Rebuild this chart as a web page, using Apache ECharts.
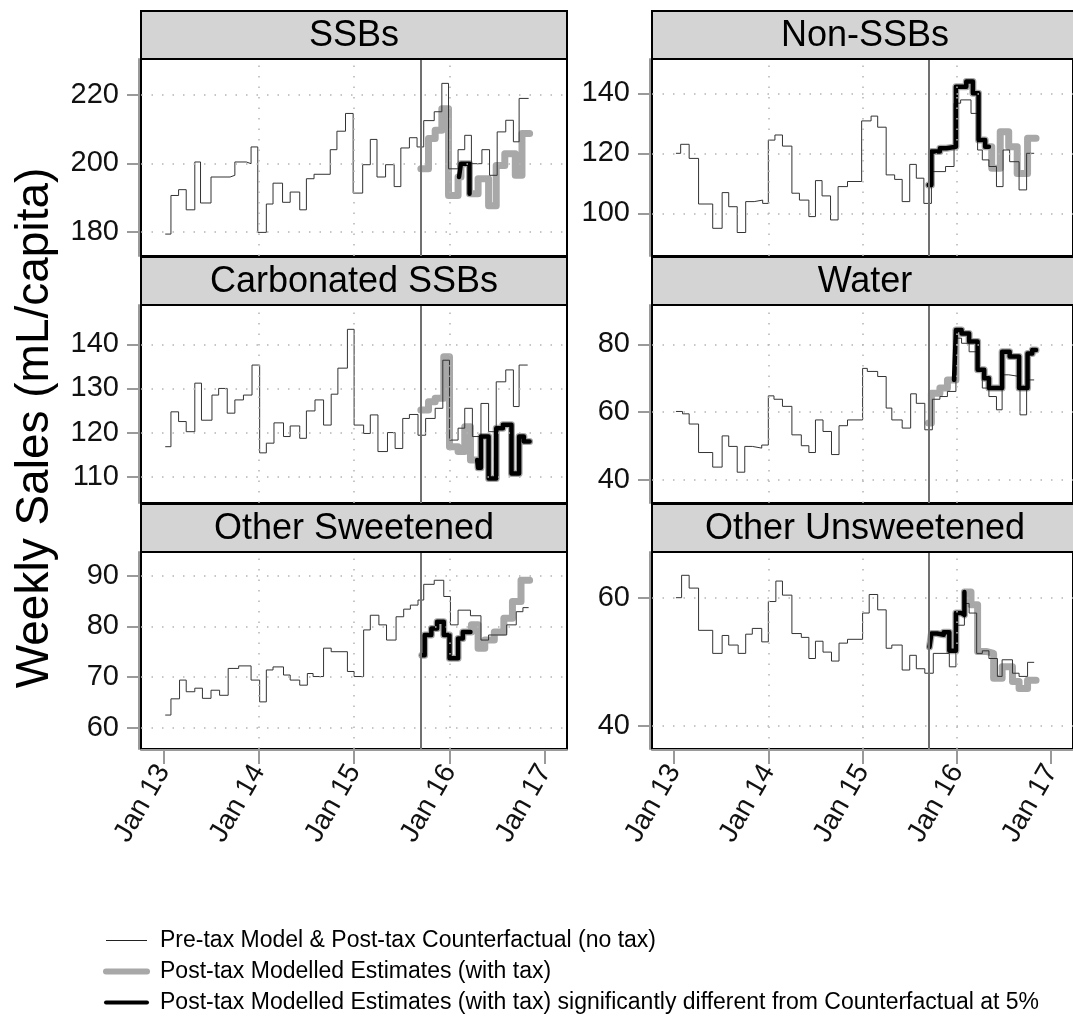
<!DOCTYPE html>
<html><head><meta charset="utf-8">
<script src="https://cdn.jsdelivr.net/npm/echarts@6/dist/echarts.min.js"></script>
<style>html,body{margin:0;padding:0;background:#fff}#chart{width:1073px;height:1019px}</style>
</head><body><div id="chart"></div>
<script>
// ---------------- DATA ----------------
const xTicks = [2013, 2014, 2015, 2016, 2017];
const xTickLabels = ['Jan 13', 'Jan 14', 'Jan 15', 'Jan 16', 'Jan 17'];
const xGridLines = [2014, 2015, 2016];
const taxDate = 2015.7;
const legendNames = [
  'Pre-tax Model & Post-tax Counterfactual (no tax)',
  'Post-tax Modelled Estimates (with tax)',
  'Post-tax Modelled Estimates (with tax) significantly different from Counterfactual at 5%'
];
const panelTitles = ['SSBs', 'Non-SSBs', 'Carbonated SSBs', 'Water', 'Other Sweetened', 'Other Unsweetened'];
const yTicksSSB = [180, 200, 220];
const yTicksNonSSB = [100, 120, 140];
const yTicksCarb = [110, 120, 130, 140];
const yTicksWater = [40, 60, 80];
const yTicksOtherSw = [60, 70, 80, 90];
const yTicksOtherUn = [40, 60];

// SSBs
const ssbBase = [[2013.02,179.3],[2013.08,190.6],[2013.16,192.3],[2013.24,186.4],[2013.33,200.4],[2013.39,188.4],[2013.50,196.0],[2013.70,196.5],[2013.75,200.4],[2013.87,199.9],[2013.92,204.8],[2013.99,179.8],[2014.08,188.1],[2014.15,194.2],[2014.25,188.6],[2014.33,191.6],[2014.43,186.4],[2014.50,195.5],[2014.58,196.8],[2014.75,204.0],[2014.82,209.4],[2014.91,214.6],[2014.99,191.3],[2015.09,199.6],[2015.17,207.0],[2015.24,196.0],[2015.33,199.6],[2015.42,193.2],[2015.49,204.5],[2015.58,207.5],[2015.66,204.8],[2015.73,212.5],[2015.84,215.1],[2015.92,223.4],[2015.99,198.4],[2016.09,204.0],[2016.16,208.2],[2016.23,199.9],[2016.34,204.0],[2016.42,196.5],[2016.50,209.2],[2016.59,212.6],[2016.67,206.3],[2016.73,219.0],[2016.83,219.0]];
const ssbTax = [[2015.70,198.4],[2015.78,207.3],[2015.85,209.7],[2015.92,216.0],[2015.99,190.6],[2016.09,196.0],[2016.12,199.9],[2016.21,191.1],[2016.30,195.5],[2016.41,187.6],[2016.49,199.4],[2016.58,202.8],[2016.69,196.5],[2016.76,208.7],[2016.84,208.7]];
const ssbSig = [[2016.10, 2016.21]];

// Non-SSBs
const nonBase = [[2013.02,120.0],[2013.07,123.0],[2013.16,118.3],[2013.26,103.1],[2013.41,95.0],[2013.51,106.9],[2013.58,102.2],[2013.67,93.6],[2013.76,103.9],[2013.85,104.4],[2013.94,103.3],[2014.00,124.4],[2014.07,126.1],[2014.15,122.4],[2014.25,106.7],[2014.33,104.4],[2014.43,98.9],[2014.50,110.9],[2014.57,105.8],[2014.66,97.8],[2014.74,108.9],[2014.84,110.6],[2014.99,130.8],[2015.09,132.4],[2015.16,128.7],[2015.25,112.8],[2015.34,111.3],[2015.42,103.9],[2015.50,116.3],[2015.57,111.7],[2015.65,103.3],[2015.73,113.9],[2015.88,115.6],[2015.97,136.7],[2016.04,137.8],[2016.15,133.3],[2016.22,121.1],[2016.27,117.8],[2016.34,115.6],[2016.42,108.9],[2016.49,121.1],[2016.56,117.2],[2016.66,107.8],[2016.74,120.0],[2016.82,120.0]];
const nonTax = [[2015.70,109.4],[2015.73,120.6],[2015.82,121.7],[2015.89,122.2],[2015.99,142.2],[2016.10,143.9],[2016.17,140.0],[2016.23,124.4],[2016.30,122.2],[2016.37,115.0],[2016.46,127.2],[2016.55,122.2],[2016.64,113.3],[2016.75,125.0],[2016.84,125.0]];
const nonSig = [[2015.70, 2016.34]];

// Carbonated SSBs
const carbBase = [[2013.02,116.8],[2013.08,124.7],[2013.16,122.5],[2013.24,120.2],[2013.33,131.2],[2013.40,122.8],[2013.51,128.5],[2013.58,130.0],[2013.67,124.4],[2013.75,127.4],[2013.84,128.5],[2013.93,135.3],[2014.01,115.4],[2014.08,117.6],[2014.16,122.2],[2014.26,119.1],[2014.33,121.5],[2014.43,118.7],[2014.50,124.9],[2014.59,127.4],[2014.68,121.7],[2014.76,128.7],[2014.83,134.6],[2014.93,143.4],[2015.00,121.7],[2015.10,119.8],[2015.17,124.0],[2015.25,115.7],[2015.35,120.0],[2015.43,116.4],[2015.51,123.2],[2015.58,124.1],[2015.67,119.4],[2015.75,123.2],[2015.85,125.5],[2015.93,136.4],[2016.00,118.3],[2016.09,121.0],[2016.16,125.5],[2016.24,119.1],[2016.33,126.6],[2016.41,120.2],[2016.49,131.5],[2016.59,134.2],[2016.67,125.9],[2016.73,135.3],[2016.82,135.3]];
const carbTax = [[2015.70,125.1],[2015.78,127.0],[2015.85,127.8],[2015.94,137.2],[2016.00,116.8],[2016.09,115.7],[2016.16,121.3],[2016.22,113.8],[2016.30,112.0],[2016.33,119.1],[2016.41,109.6],[2016.49,121.0],[2016.56,121.8],[2016.65,110.7],[2016.73,119.1],[2016.78,118.0],[2016.84,118.0]];
const carbSig = [[2016.29, 2016.84]];

// Water
const waterBase = [[2013.02,60.2],[2013.09,59.5],[2013.16,56.5],[2013.26,48.1],[2013.41,43.8],[2013.51,53.0],[2013.58,49.9],[2013.67,42.3],[2013.75,49.9],[2013.83,49.4],[2013.93,50.3],[2014.00,64.8],[2014.06,63.8],[2014.15,61.7],[2014.25,53.3],[2014.35,50.1],[2014.43,48.1],[2014.50,57.7],[2014.58,54.3],[2014.67,47.5],[2014.75,56.0],[2014.84,57.7],[2015.00,72.9],[2015.05,72.0],[2015.16,70.5],[2015.25,61.2],[2015.31,57.7],[2015.42,55.3],[2015.51,65.4],[2015.57,62.6],[2015.66,54.8],[2015.74,63.8],[2015.82,64.6],[2015.90,66.1],[2015.99,81.8],[2016.05,80.3],[2016.13,77.8],[2016.21,72.9],[2016.27,67.1],[2016.34,64.6],[2016.42,60.7],[2016.48,71.0],[2016.55,70.5],[2016.67,59.2],[2016.74,69.5],[2016.82,69.5]];
const waterTax = [[2015.70,56.8],[2015.73,65.6],[2015.82,67.1],[2015.90,69.5],[2015.99,84.2],[2016.05,83.2],[2016.13,80.8],[2016.22,72.5],[2016.29,70.0],[2016.34,67.1],[2016.48,77.8],[2016.56,76.4],[2016.66,67.1],[2016.75,77.3],[2016.80,78.3],[2016.84,78.3]];
const waterSig = [[2015.97, 2016.84]];

// Other Sweetened
const oswBase = [[2013.02,62.5],[2013.08,65.7],[2013.17,69.4],[2013.24,67.1],[2013.33,67.8],[2013.41,65.8],[2013.50,67.4],[2013.59,66.4],[2013.68,71.7],[2013.79,72.2],[2013.92,69.4],[2014.01,65.1],[2014.08,71.4],[2014.15,72.0],[2014.26,70.4],[2014.33,69.4],[2014.43,68.4],[2014.51,70.7],[2014.57,70.1],[2014.68,75.7],[2014.76,75.0],[2014.93,71.1],[2015.00,70.1],[2015.10,79.3],[2015.17,82.2],[2015.26,80.3],[2015.34,77.3],[2015.44,81.9],[2015.52,83.4],[2015.59,84.2],[2015.67,85.2],[2015.73,88.3],[2015.84,89.1],[2015.94,85.9],[2016.01,80.3],[2016.09,83.2],[2016.22,82.1],[2016.33,77.3],[2016.41,78.3],[2016.60,80.3],[2016.70,82.9],[2016.77,83.7],[2016.83,83.7]];
const oswTax = [[2015.71,74.3],[2015.74,78.3],[2015.81,79.6],[2015.87,80.9],[2015.94,78.3],[2016.00,73.7],[2016.09,77.6],[2016.14,78.9],[2016.23,80.3],[2016.30,75.7],[2016.37,77.3],[2016.47,78.9],[2016.57,81.6],[2016.66,84.9],[2016.75,89.1],[2016.84,89.1]];
const oswSig = [[2015.71, 2016.22]];

// Other Unsweetened
const ounBase = [[2013.02,60.0],[2013.08,63.5],[2013.16,61.5],[2013.26,54.9],[2013.41,51.3],[2013.51,54.1],[2013.58,52.6],[2013.68,51.3],[2013.76,54.3],[2013.83,55.2],[2013.93,53.1],[2014.00,59.4],[2014.08,62.6],[2014.15,60.4],[2014.25,54.4],[2014.35,53.8],[2014.43,50.5],[2014.50,53.2],[2014.58,51.5],[2014.67,50.1],[2014.75,52.9],[2014.84,53.5],[2015.00,57.6],[2015.07,60.5],[2015.16,58.1],[2015.25,52.1],[2015.31,52.6],[2015.42,48.7],[2015.50,51.0],[2015.57,48.9],[2015.66,48.2],[2015.75,51.3],[2015.92,49.2],[2015.99,55.7],[2016.08,59.1],[2016.13,57.6],[2016.21,51.3],[2016.27,51.7],[2016.34,50.5],[2016.43,47.7],[2016.48,50.3],[2016.59,48.2],[2016.66,47.7],[2016.75,49.9],[2016.82,49.9]];
const ounTax = [[2015.71,52.3],[2015.73,54.4],[2015.79,54.2],[2015.86,54.6],[2015.92,51.7],[2015.99,57.6],[2016.05,57.3],[2016.08,60.9],[2016.15,58.9],[2016.22,51.6],[2016.31,51.3],[2016.39,47.4],[2016.48,49.2],[2016.59,46.9],[2016.66,45.8],[2016.75,47.1],[2016.84,47.1]];
const ounSig = [[2015.71, 2016.08]];

// ---------------- LAYOUT ----------------
const FONT = '"Liberation Sans", Arial, sans-serif';
const panels = [
  {base: ssbBase, tax: ssbTax, sig: ssbSig, ticks: yTicksSSB, range: [172.89, 230.53]},
  {base: nonBase, tax: nonTax, sig: nonSig, ticks: yTicksNonSSB, range: [85.77, 151.43]},
  {base: carbBase, tax: carbTax, sig: carbSig, ticks: yTicksCarb, range: [104.04, 148.91]},
  {base: waterBase, tax: waterTax, sig: waterSig, ticks: yTicksWater, range: [33.22, 91.58]},
  {base: oswBase, tax: oswTax, sig: oswSig, ticks: yTicksOtherSw, range: [55.80, 94.68]},
  {base: ounBase, tax: ounTax, sig: ounSig, ticks: yTicksOtherUn, range: [36.36, 67.14]}
];
const colLeft = [141, 652];
const rowTop = [59, 305, 552];
const rowH = [197, 198, 197];
const plotW = 426;
const stripH = 48;
const xMin = 2012.766, xMax = 2017.232;
const COL_THIN = '#333333', COL_GRAY = '#a8a8a8', COL_SIG = '#000000';

function valueAt(arr, x) {
  let v = arr[0][1];
  for (const p of arr) { if (p[0] <= x + 1e-9) v = p[1]; else break; }
  return v;
}
function sigSegment(arr, a, b) {
  const pts = [[a, valueAt(arr, a)]];
  for (const p of arr) { if (p[0] > a && p[0] < b) pts.push(p); }
  pts.push([b, valueAt(arr, b)]);
  return pts;
}

const grids = [], xAxes = [], yAxes = [], series = [], graphics = [];
panels.forEach((p, i) => {
  const col = i % 2, row = Math.floor(i / 2);
  const left = colLeft[col], top = rowTop[row], h = rowH[row];
  const bottomRow = row === 2;
  grids.push({left: left, top: top, width: plotW, height: h, show: true,
    borderColor: '#000', borderWidth: 2, backgroundColor: 'transparent', containLabel: false});
  xAxes.push({type: 'value', gridIndex: i, min: xMin, max: xMax, offset: 1,
    splitLine: {show: false},
    axisLine: {show: bottomRow, lineStyle: {color: '#9a9a9a', width: 2}},
    axisTick: {show: bottomRow, customValues: xTicks, length: 14, lineStyle: {color: '#9a9a9a', width: 2}},
    axisLabel: {show: bottomRow, customValues: xTicks, rotate: 60, margin: 17, fontSize: 28,
      fontFamily: FONT, color: '#111', formatter: v => xTickLabels[xTicks.indexOf(Math.round(v))]}
  });
  yAxes.push({type: 'value', gridIndex: i, min: p.range[0], max: p.range[1], offset: 2,
    splitLine: {show: false},
    axisLine: {show: true, lineStyle: {color: '#9a9a9a', width: 2}},
    axisTick: {show: true, customValues: p.ticks, length: 12, lineStyle: {color: '#9a9a9a', width: 2}},
    axisLabel: {show: true, customValues: p.ticks, margin: 20, fontSize: 29, fontFamily: FONT, color: '#111'}
  });
  const gridLines = xGridLines.map(x => ({xAxis: x})).concat(p.ticks.map(t => ({yAxis: t})));
  series.push({
    name: legendNames[1], type: 'line', xAxisIndex: i, yAxisIndex: i, data: p.tax,
    step: 'end', symbol: 'none', z: 2, silent: true,
    itemStyle: {color: COL_GRAY},
    lineStyle: {color: COL_GRAY, width: 7, cap: 'round', join: 'round'},
    markLine: {silent: true, symbol: 'none', label: {show: false}, animation: false,
      data: gridLines.map(d => Object.assign(d, {lineStyle: {color: '#b4b4b4', width: 1.5, type: [1.5, 9]}}))
        .concat([{xAxis: taxDate, lineStyle: {color: '#707070', width: 2, type: 'solid'}}])}
  });
  series.push({
    name: legendNames[0], type: 'line', xAxisIndex: i, yAxisIndex: i, data: p.base,
    step: 'end', symbol: 'none', z: 3, silent: true,
    itemStyle: {color: COL_THIN},
    lineStyle: {color: COL_THIN, width: 1}
  });
  p.sig.forEach(r => {
    series.push({
      name: legendNames[2], type: 'line', xAxisIndex: i, yAxisIndex: i, data: sigSegment(p.tax, r[0], r[1]),
      step: 'end', symbol: 'none', z: 4, silent: true,
      itemStyle: {color: COL_SIG},
      lineStyle: {color: COL_SIG, width: 4.5, cap: 'round', join: 'round'}
    });
  });
  graphics.push({type: 'rect', shape: {x: left, y: top - stripH, width: plotW, height: stripH},
    style: {fill: '#d4d4d4', stroke: '#000', lineWidth: 2}, z: 10});
  graphics.push({type: 'text', x: left + plotW / 2, y: top - stripH / 2 + 1, z: 11,
    style: {text: panelTitles[i], font: '36px ' + FONT, fill: '#000', align: 'center', verticalAlign: 'middle'}});
});
graphics.push({type: 'text', x: 35, y: 428, rotation: Math.PI / 2,
  style: {text: 'Weekly Sales (mL/capita)', font: '46px ' + FONT, fill: '#000', align: 'center', verticalAlign: 'middle'}});

const chart = echarts.init(document.getElementById('chart'), null, {renderer: 'canvas'});
chart.setOption({
  animation: false,
  backgroundColor: '#fff',
  grid: grids, xAxis: xAxes, yAxis: yAxes, series: series,
  graphic: graphics,
  legend: {
    data: [
      {name: legendNames[0], lineStyle: {color: '#222', width: 1}},
      {name: legendNames[1], lineStyle: {color: COL_GRAY, width: 6}},
      {name: legendNames[2], lineStyle: {color: COL_SIG, width: 4}}
    ],
    orient: 'vertical', left: 103, top: 929, padding: 0, itemWidth: 41, itemHeight: 14,
    itemGap: 8, selectedMode: false, itemStyle: {opacity: 0},
    textStyle: {fontSize: 23, color: '#000', fontFamily: FONT, padding: [0, 0, 0, 8]}
  }
});
</script></body></html>
